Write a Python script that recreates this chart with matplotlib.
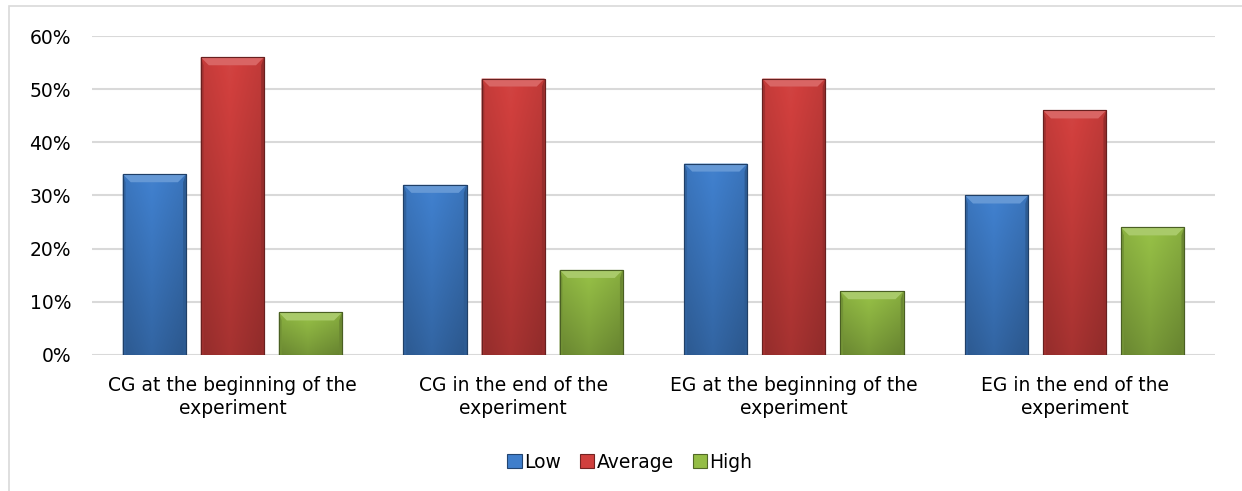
import numpy as np
import matplotlib
matplotlib.use("Agg")
import matplotlib.pyplot as plt
from matplotlib.patches import Polygon, Rectangle
from matplotlib.colors import to_rgb

categories = ["CG at the beginning of the\nexperiment", "CG in the end of the\nexperiment",
              "EG at the beginning of the\nexperiment", "EG in the end of the\nexperiment"]
series_names = ["Low", "Average", "High"]
low = [0.34, 0.32, 0.36, 0.30]
average = [0.56, 0.52, 0.52, 0.46]
high = [0.08, 0.16, 0.12, 0.24]
yticks = [0, 0.1, 0.2, 0.3, 0.4, 0.5, 0.6]
ytick_labels = ["0%", "10%", "20%", "30%", "40%", "50%", "60%"]

colors = ["#3f7ecb", "#d03f3d", "#94bd45"]

plt.rcParams['font.family'] = ['DejaVu Sans']
fig = plt.figure(figsize=(12.42, 4.91), dpi=100)
ax = fig.add_axes([92/1242, 1-355/491, (1215-92)/1242, (355-36)/491])

# outer border
fig.patches.append(Rectangle((9/1242, -0.05), 1.1, 1-6/491+0.05, transform=fig.transFigure,
                             fill=False, edgecolor="#d9d9d9", linewidth=1.2, zorder=0))

x = np.arange(len(categories))
width = 0.225
offsets = [-0.278, 0.0, 0.278]
ax.set_xlim(-0.5, len(categories) - 0.5)
ax.set_ylim(0, 0.6)

def shade(c, f):
    r = np.array(to_rgb(c))
    if f >= 0:
        return tuple(r + (1 - r) * f)
    return tuple(r * (1 + f))

px_x = (1215 - 92) / 4.0
px_y = (355 - 36) / 0.6
bev_x = 8 / px_x
bev_y = 8 / px_y

handles = []
for vals, off, col, name in zip([low, average, high], offsets, colors, series_names):
    bars = ax.bar(x + off, vals, width, color=col, edgecolor=shade(col, -0.45),
                  linewidth=0.8, zorder=3, label=name)
    handles.append(bars)
    for b in bars:
        x0, y0 = b.get_x(), b.get_y()
        w, h = b.get_width(), b.get_height()
        ny, nx = 60, 30
        yy = np.linspace(0, 1, ny)[:, None]
        xx = np.linspace(0, 1, nx)[None, :]
        f = -0.2 * (1 - yy) + 0.03 * yy - 0.1 * np.abs(xx - 0.45) * 2
        base = np.array(to_rgb(col))
        img = np.where(f[..., None] >= 0, base + (1 - base) * f[..., None], base * (1 + f[..., None]))
        img = np.clip(img, 0, 1)
        im = ax.imshow(img, extent=(x0, x0 + w, y0, y0 + h), origin="lower",
                       aspect="auto", zorder=3.5, interpolation="bilinear")
        im.set_clip_path(b)
        top = y0 + h
        ax.add_patch(Polygon([(x0, top), (x0 + w, top), (x0 + w - bev_x, top - bev_y),
                              (x0 + bev_x, top - bev_y)], closed=True,
                             facecolor=shade(col, 0.2), edgecolor="none", zorder=4))
        ax.add_patch(Polygon([(x0, top), (x0 + bev_x * 0.35, top - bev_y), (x0 + bev_x * 0.35, y0),
                              (x0, y0)], closed=True,
                             facecolor=shade(col, -0.22), edgecolor="none", zorder=4))
        ax.add_patch(Polygon([(x0 + w, top), (x0 + w - bev_x * 0.35, top - bev_y),
                              (x0 + w - bev_x * 0.35, y0), (x0 + w, y0)], closed=True,
                             facecolor=shade(col, -0.28), edgecolor="none", zorder=4))
        ax.add_patch(Rectangle((x0, y0), w, h, fill=False, edgecolor=shade(col, -0.5),
                               linewidth=0.8, zorder=5))

ax.set_yticks(yticks)
ax.set_yticklabels(ytick_labels, fontsize=13.5)
ax.set_xticks(x)
ax.set_xticklabels(categories, fontsize=13.5, linespacing=1.25)
ax.tick_params(axis="both", length=0)
ax.tick_params(axis="y", pad=15)
ax.tick_params(axis="x", pad=15)
ax.grid(axis="y", color="#d9d9d9", linewidth=1.5, zorder=0)
ax.set_axisbelow(True)
for s in ax.spines.values():
    s.set_visible(False)

leg = fig.legend(handles=handles, labels=series_names, loc="center", bbox_to_anchor=(630/1242, 1-462/491),
                 ncol=3, frameon=False, fontsize=13.5, handlelength=0.75, handleheight=0.75,
                 handletextpad=0.15, columnspacing=1.0)

fig.savefig("out.png", dpi=100)
